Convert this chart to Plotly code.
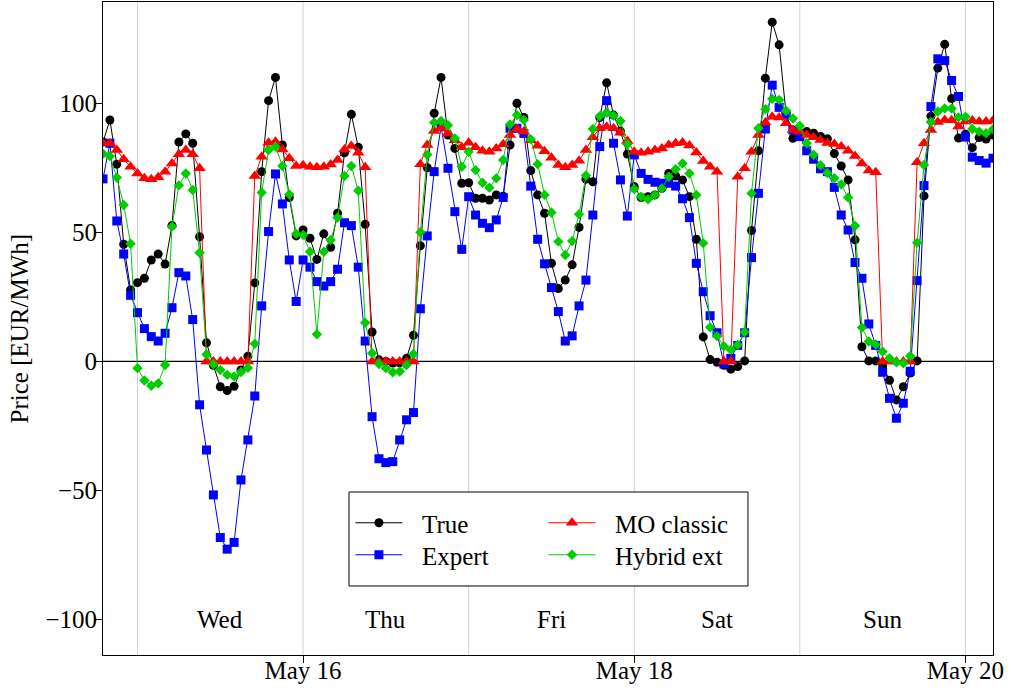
import pandas as pd
import plotly.graph_objects as go

# hourly timestamps, May 14 19:00 -> May 20 04:00
times = pd.date_range("2019-05-14 19:00", periods=130, freq="h")

true_price = [85, 93.5, 76.4, 45.4, 27.7, 30.5, 32.2, 39.3, 41.6, 37.7,
              52.6, 85, 88.1, 84.5, 48.3, 7.2, -1.5, -9.8, -11.3, -9.6,
              -3.3, 2, 30.4, 73.5, 101, 110, 83.8, 63.5, 48.6, 50.9,
              47.7, 39.5, 49.4, 44.2, 57.4, 80.8, 95.7, 82.9, 53.1, 11.4,
              0.6, 0, -0.6, -0.5, 1.2, 10.1, 44.8, 75, 96.1, 110,
              87.7, 82.5, 69, 69.2, 63.2, 63.2, 62.5, 64.5, 64, 83.8,
              100, 94.5, 73.9, 64.5, 57.4, 38, 28.2, 31.5, 37.4, 51.9,
              70.6, 69.6, 94.4, 107.9, 95.4, 89.2, 80.3, 67.7, 63.5, 63.8,
              64.5, 67, 72.8, 71.8, 70.3, 63.8, 47.3, 9.5, 0.7, -0.3,
              -1.5, -3, -2, 0.2, 50.7, 81.6, 109.7, 131.4, 122.6, 96.1,
              86.4, 88.5, 89, 88.4, 87.1, 86.2, 80.5, 75.7, 70.3, 47.1,
              5.7, 0.2, 0.2, -1.8, -7.3, -14.9, -9.8, -4.5, 0.2, 64.1,
              95, 113.6, 122.8, 101.8, 86.5, 88, 82.8, 86.7, 86.1, 87.7]

expert = [70.7, 84.5, 54.4, 41.6, 25.6, 18.9, 12.7, 9.6, 7.9, 10.9,
          20.8, 34.4, 33.1, 16.2, -16.8, -34.3, -51.7, -68.2, -72.7, -70.1,
          -45.9, -30.4, -13.4, 21.5, 50.3, 72.6, 61, 39.3, 23.2, 39.3,
          36.5, 30.9, 29.2, 30.9, 35.7, 53.7, 52.6, 36.5, 7.9, -21.4,
          -37.7, -39.2, -38.8, -30.4, -22.6, -19.8, 20.4, 48.6, 73.5, 90.9,
          74.8, 58, 43.4, 63.8, 56.7, 53.5, 51.8, 54.8, 63.5, 90.3,
          90.3, 88.3, 67.9, 47.3, 37.8, 28.6, 19.3, 7.9, 9.9, 21.5,
          31.5, 56.7, 83.2, 101, 84.5, 70.3, 56.3, 80, 72.8, 70.5,
          69.4, 69, 69, 67.9, 63, 55.7, 38, 27, 17.7, 11.1,
          -1, 1.2, 6.2, 11.1, 40.2, 65.1, 90, 107, 98.4, 95.5,
          89.6, 87.1, 81.6, 78.3, 74.6, 73.5, 67.4, 56.7, 50.9, 38.3,
          32.2, 14.5, 6.2, -4.2, -14.3, -22, -16.2, -3.8, 31.3, 68.1,
          98.7, 117.2, 116.5, 108.8, 102.6, 86.9, 79.1, 77.8, 76.8, 78.7]

mo_classic = [84.5, 84.5, 81.9, 78.3, 75.4, 72.8, 70.9, 70.6, 71.3, 73.5,
              76.7, 80.2, 81.9, 80.2, 74.8, 0, 0, 0, 0, 0,
              0, 0, 71.8, 79.3, 84.7, 85.1, 82.1, 78.7, 75.7, 76,
              75.4, 75.2, 75.4, 76.3, 78, 82.1, 83.4, 80.8, 75.2, 0,
              0, 0, 0, 0, 0, 0, 76.4, 83.8, 89.2, 90.3,
              88.3, 85.7, 82.9, 84.7, 82.9, 81.6, 81.2, 82.5, 84.1, 87.7,
              90, 89, 85.7, 83.5, 81.4, 78.9, 76.1, 75.2, 76.1, 77.7,
              81.9, 86.8, 90.3, 90.9, 90.3, 88.6, 85.4, 81.2, 80.8, 81.2,
              81.9, 82.5, 83.8, 84.5, 84.8, 83.6, 80.9, 77.6, 75.4, 73.5,
              0, 0, 71.5, 74.8, 81.2, 87.7, 92.5, 94.8, 94.5, 92.2,
              89.6, 89, 87.7, 86.8, 85.8, 84.6, 84.2, 83.2, 81.6, 79.6,
              76.7, 73.9, 73.3, 0, 0, 0, 0, 0, 77.1, 84.5,
              89.6, 92.7, 93.5, 93.4, 91, 92.9, 93.3, 92.9, 92.9, 93.3]

hybrid_ext = [80.4, 79.5, 71.2, 60.6, 45.6, -2.6, -7.4, -9.4, -8.5, -1.4,
              52.2, 68.2, 72.8, 66.4, 42.1, 2.7, -1.1, -3.3, -5.2, -5.8,
              -4.1, -2.5, 6.8, 65.4, 81.9, 83.2, 75.7, 64.7, 49.4, 49,
              42.5, 10.5, 42.5, 47, 55.7, 71.8, 75.7, 66.1, 15, 3.2,
              -1, -2.6, -4.2, -3.9, -1.4, 2.9, 50, 80, 92.5, 93.1,
              91.5, 86.4, 75.4, 81.2, 74.1, 69.2, 67.3, 70.9, 78, 91.8,
              95.4, 93.5, 86, 76.4, 64.5, 57.7, 46.4, 41.2, 46.6, 57,
              72, 90, 95, 96.3, 95.2, 93.1, 84.1, 66.8, 63.8, 62.8,
              64.5, 67, 71.5, 74.4, 76.7, 72.8, 64.5, 45.8, 13.2, 9.8,
              5.9, 4.5, 6.4, 11.4, 65.1, 90.3, 97.7, 101.7, 101.3, 97.1,
              94.1, 91.2, 84.5, 80, 76, 73, 71, 68.5, 63.5, 52.5,
              13.1, 7.7, 6.6, 3.8, 1.2, -0.3, -0.7, 2.1, 46, 76.1,
              92.7, 96.8, 98, 98, 94.5, 94.8, 90, 89, 88.4, 89.9]

series_names = ["True", "Expert", "MO classic", "Hybrid ext"]
day_names = ["Wed", "Thu", "Fri", "Sat", "Sun"]
day_noons = pd.date_range("2019-05-15 12:00", periods=5, freq="D")
midnights = pd.date_range("2019-05-15", periods=6, freq="D")
tick_dates = pd.to_datetime(["2019-05-16", "2019-05-18", "2019-05-20"])
tick_labels = ["May 16", "May 18", "May 20"]
y_ticks = [-100, -50, 0, 50, 100]

FONT = "Liberation Serif, Times New Roman, serif"
FS = 25
PAD = "\u2002\u200a"  # small visual gap between legend glyph and text

styles = [
    dict(color="black", symbol="circle", size=9),
    dict(color="#0000FF", symbol="square", size=9),
    dict(color="#FF0000", symbol="triangle-up", size=11),
    dict(color="#00CD00", symbol="diamond", size=8),
]
values = [true_price, expert, mo_classic, hybrid_ext]
legend_ids = ["legend", "legend2", "legend3", "legend4"]

fig = go.Figure()
for name, vals, st, lg in zip(series_names, values, styles, legend_ids):
    fig.add_trace(go.Scatter(
        x=times, y=vals, name=PAD + name, mode="lines+markers",
        line=dict(color=st["color"], width=1),
        marker=dict(color=st["color"], symbol=st["symbol"], size=st["size"],
                    line=dict(width=0)),
        legend=lg,
    ))

shapes = []
for m in midnights:
    shapes.append(dict(type="line", xref="x", yref="paper", x0=m, x1=m,
                       y0=0, y1=1, line=dict(color="#D0D0D0", width=1),
                       layer="below"))
shapes.append(dict(type="line", xref="paper", yref="y", x0=0, x1=1, y0=0, y1=0,
                   line=dict(color="black", width=1.3), layer="below"))
# legend box
shapes.append(dict(type="rect", xref="paper", yref="paper",
                   x0=0.2764, x1=0.7247, y0=0.1057, y1=0.2496,
                   line=dict(color="black", width=1), fillcolor="white",
                   layer="above"))

annotations = []
for d, nm in zip(day_noons, day_names):
    annotations.append(dict(x=d, y=-100, xref="x", yref="y", text=nm,
                            showarrow=False,
                            font=dict(family=FONT, size=FS, color="black")))
annotations.append(dict(x=-0.0933, y=0.5, xref="paper", yref="paper",
                        xanchor="center", yanchor="middle",
                        text="Price [EUR/MWh]", textangle=-90, showarrow=False,
                        font=dict(family=FONT, size=FS, color="black")))

leg_common = dict(bgcolor="rgba(0,0,0,0)", borderwidth=0,
                  font=dict(family=FONT, size=FS, color="black"),
                  xanchor="left", yanchor="middle", itemwidth=47)
lx1, lx2 = 0.278, 0.4949
ly1, ly2 = 0.2021, 0.1531

fig.update_layout(
    width=1011, height=693,
    margin=dict(l=103, r=18, t=2, b=38, autoexpand=False),
    paper_bgcolor="white", plot_bgcolor="white",
    font=dict(family=FONT, size=FS, color="black"),
    showlegend=True,
    shapes=shapes, annotations=annotations,
    legend=dict(x=lx1, y=ly1, **leg_common),
    legend2=dict(x=lx1, y=ly2, **leg_common),
    legend3=dict(x=lx2, y=ly1, **leg_common),
    legend4=dict(x=lx2, y=ly2, **leg_common),
    xaxis=dict(range=[times[0], times[-1]], tickmode="array",
               tickvals=tick_dates, ticktext=tick_labels, automargin=False,
               showgrid=False, zeroline=False, showline=True, mirror=True,
               linecolor="black", linewidth=1, ticks="outside", ticklen=7,
               ticklabelstandoff=-14,
               tickcolor="black", tickfont=dict(family=FONT, size=FS)),
    yaxis=dict(range=[-113.7, 139.2], tickmode="array", tickvals=y_ticks,
               automargin=False, ticklabelstandoff=-7,
               showgrid=False, zeroline=False, showline=True, mirror=True,
               linecolor="black", linewidth=1, ticks="outside", ticklen=7,
               tickcolor="black", tickfont=dict(family=FONT, size=FS)),
)

fig.write_html(
    "out.html",
    config={"displayModeBar": False},
    post_script="document.body.style.margin='0';document.body.style.overflow='hidden';",
)
